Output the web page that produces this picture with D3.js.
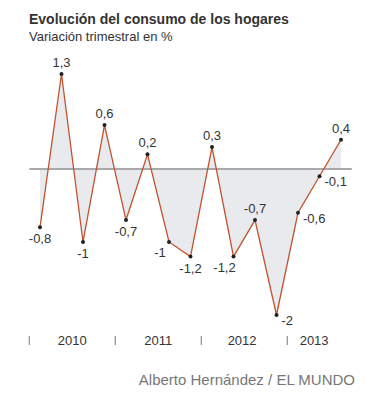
<!DOCTYPE html>
<html>
<head>
<meta charset="utf-8">
<script src="https://cdn.jsdelivr.net/npm/d3@7"></script>
<style>
  body { margin: 0; background: #fff; }
  text { font-family: "Liberation Sans", Arial, sans-serif; }
</style>
</head>
<body>
<svg id="chart" width="369" height="394"></svg>
<script>
// quarterly change, 2010 Q1 .. 2013 Q3
var values = [-0.8, 1.3, -1, 0.6, -0.7, 0.2, -1, -1.2, 0.3, -1.2, -0.7, -2, -0.6, -0.1, 0.4];
var labels = ["-0,8", "1,3", "-1", "0,6", "-0,7", "0,2", "-1", "-1,2", "0,3", "-1,2", "-0,7", "-2", "-0,6", "-0,1", "0,4"];
// where each value label sits relative to its point
var labelPlace = ["below", "above", "below", "above", "below", "above", "belowleft", "below", "above", "belowleft", "above", "right", "right", "right", "above"];
var years = ["2010", "2011", "2012", "2013"];
var yearStart = [-0.5, 3.5, 7.5, 11.5];   // quarter index of year boundary
var yearMid = [1.5, 5.5, 9.4, 12.75];

var svg = d3.select("#chart");

var x = d3.scaleLinear().domain([0, values.length - 1]).range([40, 341]);
var y = d3.scaleLinear().domain([-2, 1.3]).range([315, 74]);

svg.append("text").attr("x", 29).attr("y", 24)
	.text("Evolución del consumo de los hogares")
	.style("font-size", "14px").style("font-weight", "bold").style("fill", "#333");
svg.append("text").attr("x", 29).attr("y", 41)
	.text("Variación trimestral en %")
	.style("font-size", "13px").style("fill", "#333");

var area = d3.area()
	.x(function(d, i){ return x(i); })
	.y0(y(0))
	.y1(function(d){ return y(d); });

svg.append("path").datum(values)
	.attr("d", area)
	.style("fill", "#e9eaee");

svg.append("line")
	.attr("x1", x(-0.5)).attr("x2", x(14.5))
	.attr("y1", y(0)).attr("y2", y(0))
	.style("stroke", "#a9a9a9").style("stroke-width", 2);

var line = d3.line()
	.x(function(d, i){ return x(i); })
	.y(function(d){ return y(d); });

svg.append("path").datum(values)
	.attr("d", line)
	.style("fill", "none")
	.style("stroke", "#c0532e")
	.style("stroke-width", 1.3);

svg.selectAll("circle.pt")
	.data(values).enter().append("circle")
	.attr("class", "pt")
	.attr("cx", function(d, i){ return x(i); })
	.attr("cy", function(d){ return y(d); })
	.attr("r", 2)
	.style("fill", "#222");

svg.selectAll("text.val")
	.data(values).enter().append("text")
	.attr("class", "val")
	.attr("x", function(d, i){
		var p = labelPlace[i];
		if(p == "right") return x(i) + 5;
		if(p == "belowleft") return x(i) - 9;
		return x(i);
	})
	.attr("y", function(d, i){
		var p = labelPlace[i];
		if(p == "above") return y(d) - 7;
		if(p == "right") return y(d) + 10;
		if(p == "belowleft") return y(d) + 15;
		return y(d) + 16;
	})
	.attr("text-anchor", function(d, i){ return labelPlace[i] == "right" ? "start" : "middle"; })
	.text(function(d, i){ return labels[i]; })
	.style("font-size", "13px")
	.style("fill", "#333");

svg.selectAll("line.yr")
	.data(yearStart).enter().append("line")
	.attr("class", "yr")
	.attr("x1", function(d){ return x(d); }).attr("x2", function(d){ return x(d); })
	.attr("y1", 336).attr("y2", 345)
	.style("stroke", "#777").style("stroke-width", 1);

svg.selectAll("text.yr")
	.data(years).enter().append("text")
	.attr("class", "yr")
	.attr("x", function(d, i){ return x(yearMid[i]); })
	.attr("y", 345)
	.attr("text-anchor", "middle")
	.text(function(d){ return d; })
	.style("font-size", "13px")
	.style("fill", "#333");

svg.append("text").attr("x", 355).attr("y", 385)
	.attr("text-anchor", "end")
	.text("Alberto Hernández / EL MUNDO")
	.style("font-size", "15px").style("fill", "#777");
</script>
</body>
</html>
